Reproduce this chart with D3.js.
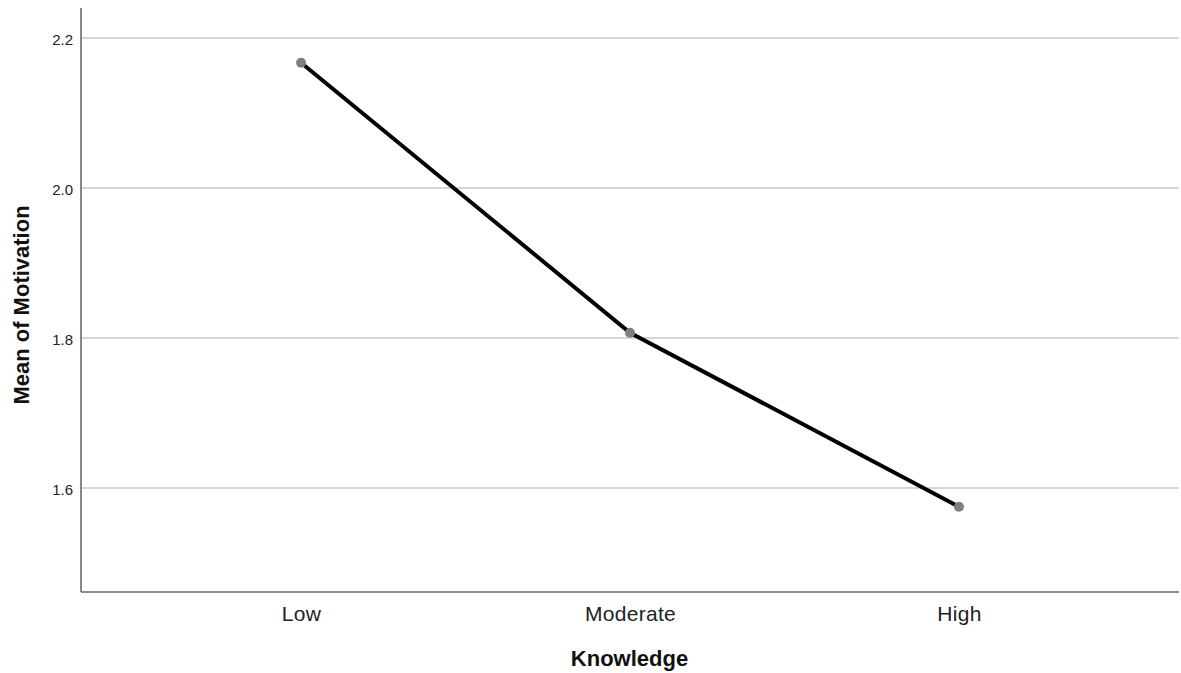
<!DOCTYPE html>
<html><head><meta charset="utf-8">
<script src="https://cdn.jsdelivr.net/npm/d3@7"></script>
<style>body{margin:0;background:#fff}svg{display:block}</style>
</head><body><svg id="c" width="1181" height="673"></svg>
<script>
const categories = ["Low", "Moderate", "High"];
const means = [2.167, 1.807, 1.575];
const yTicks = [1.6, 1.8, 2.0, 2.2];

const svg = d3.select("#c");
const F = "Liberation Sans, Arial, sans-serif";
const L = 81, R = 1179, T = 8, B = 592;
const x = d3.scalePoint().domain(categories).range([L, R]).padding(0.669);
const y = d3.scaleLinear().domain([1.4613, 2.24]).range([B, T]);

// gridlines
svg.append("g").selectAll("line").data(yTicks).join("line")
  .attr("x1", L).attr("x2", R).attr("y1", d => y(d)).attr("y2", d => y(d))
  .attr("stroke", "#c8c8c8").attr("stroke-width", 1.5);

// y axis
const ya = svg.append("g").attr("transform", `translate(${L},0)`)
  .call(d3.axisLeft(y).tickValues(yTicks).tickFormat(d3.format(".1f")).tickSize(0).tickPadding(8));
ya.select(".domain").remove();
ya.selectAll("text").attr("font-family", F).attr("font-size", 15).attr("fill", "#222").attr("dy", "0.45em");
svg.append("line").attr("x1", L).attr("x2", L).attr("y1", T).attr("y2", B).attr("stroke", "#888").attr("stroke-width", 2);

// x axis
const xa = svg.append("g").attr("transform", `translate(0,${B})`)
  .call(d3.axisBottom(x).tickSize(0).tickPadding(14));
xa.select(".domain").remove();
xa.selectAll("text").attr("font-family", F).attr("font-size", 21).attr("letter-spacing", "0.3px").attr("fill", "#222");
svg.append("line").attr("x1", L).attr("x2", R).attr("y1", B).attr("y2", B).attr("stroke", "#666").attr("stroke-width", 1.5);

// line
const data = categories.map((c, i) => ({c, v: means[i]}));
svg.append("path").datum(data)
  .attr("d", d3.line().x(d => x(d.c)).y(d => y(d.v)))
  .attr("fill", "none").attr("stroke", "#000").attr("stroke-width", 4);
svg.append("g").selectAll("circle").data(data).join("circle")
  .attr("cx", d => x(d.c)).attr("cy", d => y(d.v)).attr("r", 5).attr("fill", "#7f7f7f");

// titles
svg.append("text").attr("x", 629.5).attr("y", 666).attr("text-anchor", "middle")
  .attr("font-family", F).attr("font-weight", "bold").attr("font-size", 22)
  .attr("fill", "#111").text("Knowledge");
svg.append("text").attr("transform", "translate(29,305) rotate(-90)").attr("text-anchor", "middle")
  .attr("font-family", F).attr("font-weight", "bold").attr("font-size", 22)
  .attr("fill", "#111").text("Mean of Motivation");
</script></body></html>
